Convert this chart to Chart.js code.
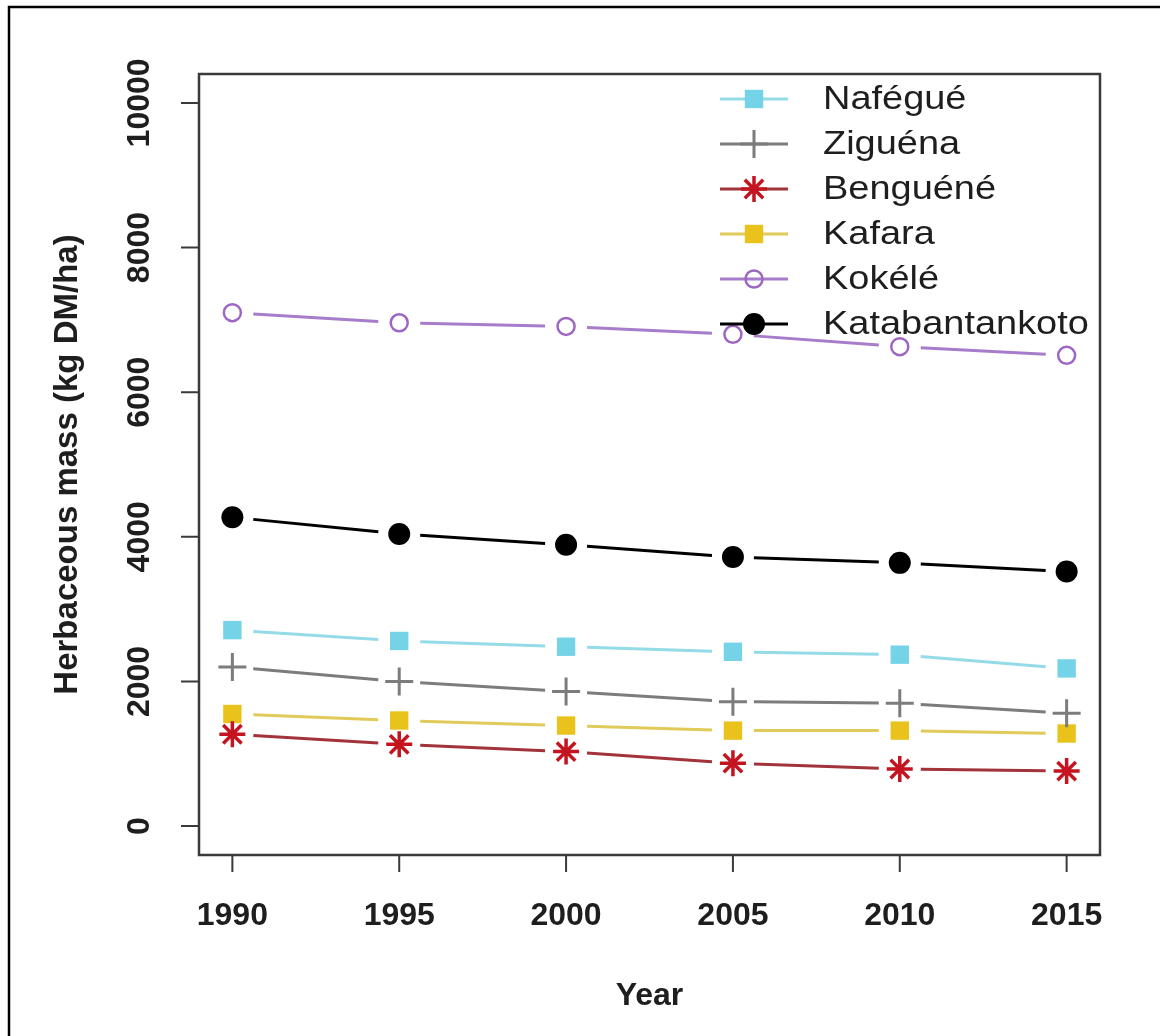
<!DOCTYPE html>
<html>
<head>
<meta charset="utf-8">
<style>
  html, body { margin: 0; padding: 0; background: #fff; }
  #wrap { position: relative; width: 1160px; height: 1036px; }
</style>
<script src="https://cdn.jsdelivr.net/npm/chart.js@4/dist/chart.umd.min.js"></script>
</head>
<body>
<div id="wrap"><canvas id="chart" width="1160" height="1036"></canvas></div>
<script>
const years = [1990, 1995, 2000, 2005, 2010, 2015];
const xTicks = [1990, 1995, 2000, 2005, 2010, 2015];
const yTicks = [0, 2000, 4000, 6000, 8000, 10000];

const nafegue = [2710, 2560, 2480, 2410, 2370, 2180];
const ziguena = [2200, 2000, 1860, 1720, 1700, 1560];
const benguene = [1270, 1130, 1030, 870, 790, 760];
const kafara = [1550, 1460, 1390, 1320, 1320, 1280];
const kokele = [7100, 6960, 6910, 6800, 6630, 6510];
const katabantankoto = [4270, 4040, 3890, 3720, 3640, 3520];

const seriesNames = ['Nafégué', 'Ziguéna', 'Benguéné', 'Kafara', 'Kokélé', 'Katabantankoto'];

const FONT = '"Liberation Sans", Arial, sans-serif';

function pts(values) {
  return years.map((yr, i) => ({ x: yr, y: values[i] }));
}

// line colour, marker colour, marker style, radius, marker border width, filled?
const styles = [
  { line: '#94dbe8', mark: '#74d3e6', style: 'rect', r: 13, bw: 0, fill: true },
  { line: '#7c7c7c', mark: '#7c7c7c', style: 'cross', r: 14, bw: 3, fill: false },
  { line: '#a3333a', mark: '#c4141f', style: 'star', r: 13, bw: 3.5, fill: false },
  { line: '#e0cb5a', mark: '#e9c31c', style: 'rect', r: 13, bw: 0, fill: true },
  { line: '#a67ccb', mark: '#9c66c2', style: 'circle', r: 8.5, bw: 2.5, fill: false },
  { line: '#000000', mark: '#000000', style: 'circle', r: 11, bw: 0, fill: true }
];

const allValues = [nafegue, ziguena, benguene, kafara, kokele, katabantankoto];

const datasets = allValues.map((vals, i) => {
  const s = styles[i];
  return {
    label: seriesNames[i],
    data: pts(vals),
    showLine: false,
    pointStyle: s.style,
    pointRadius: s.r,
    pointHoverRadius: s.r,
    pointBorderWidth: s.bw,
    pointBackgroundColor: s.fill ? s.mark : 'rgba(0,0,0,0)',
    pointBorderColor: s.mark,
    borderColor: s.line
  };
});

function drawMarker(ctx, s, x, y) {
  ctx.save();
  ctx.fillStyle = s.fill ? s.mark : 'rgba(0,0,0,0)';
  ctx.strokeStyle = s.mark;
  ctx.lineWidth = s.bw;
  Chart.helpers.drawPoint(ctx, { pointStyle: s.style, radius: s.r, rotation: 0, borderWidth: s.bw }, x, y);
  ctx.restore();
}

// R style type="b": segments with a gap around each point
const gapLines = {
  id: 'gapLines',
  beforeDatasetsDraw(chart) {
    const ctx = chart.ctx;
    const gap = 21;
    chart.data.datasets.forEach((ds, i) => {
      const meta = chart.getDatasetMeta(i);
      ctx.save();
      ctx.strokeStyle = styles[i].line;
      ctx.lineWidth = 3;
      for (let k = 0; k < meta.data.length - 1; k++) {
        const a = meta.data[k], b = meta.data[k + 1];
        const dx = b.x - a.x, dy = b.y - a.y;
        const len = Math.hypot(dx, dy);
        if (len <= 2 * gap) continue;
        const ux = dx / len, uy = dy / len;
        ctx.beginPath();
        ctx.moveTo(a.x + ux * gap, a.y + uy * gap);
        ctx.lineTo(b.x - ux * gap, b.y - uy * gap);
        ctx.stroke();
      }
      ctx.restore();
    });
  }
};

const axesAndText = {
  id: 'axesAndText',
  afterDraw(chart) {
    const ctx = chart.ctx;
    const area = chart.chartArea;
    const xs = chart.scales.x, ys = chart.scales.y;

    ctx.save();
    // outer frame (top and left only)
    ctx.strokeStyle = '#000';
    ctx.lineWidth = 2.5;
    ctx.beginPath();
    ctx.moveTo(1160, 7);
    ctx.lineTo(9, 7);
    ctx.lineTo(9, 1036);
    ctx.stroke();

    // plot box
    ctx.strokeStyle = '#3a3a3a';
    ctx.lineWidth = 2.5;
    ctx.strokeRect(area.left, area.top, area.right - area.left, area.bottom - area.top);

    // ticks
    ctx.lineWidth = 2;
    ctx.beginPath();
    xTicks.forEach(v => {
      const px = xs.getPixelForValue(v);
      ctx.moveTo(px, area.bottom);
      ctx.lineTo(px, area.bottom + 17);
    });
    yTicks.forEach(v => {
      const py = ys.getPixelForValue(v);
      ctx.moveTo(area.left, py);
      ctx.lineTo(area.left - 18, py);
    });
    ctx.stroke();

    // tick labels
    ctx.fillStyle = '#1e1e1e';
    ctx.font = 'bold 32px ' + FONT;
    ctx.textAlign = 'center';
    ctx.textBaseline = 'middle';
    xTicks.forEach(v => {
      ctx.fillText(String(v), xs.getPixelForValue(v), 916);
    });
    yTicks.forEach(v => {
      ctx.save();
      ctx.translate(140, ys.getPixelForValue(v));
      ctx.rotate(-Math.PI / 2);
      ctx.fillText(String(v), 0, 0);
      ctx.restore();
    });

    // axis titles
    ctx.fillText('Year', (area.left + area.right) / 2, 996);
    ctx.save();
    ctx.translate(68, (area.top + area.bottom) / 2);
    ctx.rotate(-Math.PI / 2);
    ctx.font = 'bold 33px ' + FONT;
    ctx.fillText('Herbaceous mass (kg DM/ha)', 0, 0);
    ctx.restore();

    // legend (no box)
    ctx.font = '33px ' + FONT;
    ctx.textAlign = 'left';
    seriesNames.forEach((name, i) => {
      const y = 99 + i * 45;
      const s = styles[i];
      ctx.strokeStyle = s.line;
      ctx.lineWidth = 3;
      ctx.beginPath();
      ctx.moveTo(720, y);
      ctx.lineTo(788, y);
      ctx.stroke();
      drawMarker(ctx, s, 754, y);
      ctx.fillStyle = '#1e1e1e';
      ctx.save();
      ctx.translate(823, y + 1);
      ctx.scale(1.15, 1);
      ctx.fillText(name, 0, 0);
      ctx.restore();
    });
    ctx.restore();
  }
};

new Chart(document.getElementById('chart'), {
  type: 'line',
  data: { datasets },
  options: {
    responsive: false,
    animation: false,
    layout: { padding: { left: 199, right: 60, top: 74, bottom: 181 } },
    plugins: { legend: { display: false }, tooltip: { enabled: false } },
    scales: {
      x: { type: 'linear', min: 1989, max: 2016, display: false },
      y: { type: 'linear', min: -400, max: 10400, display: false }
    }
  },
  plugins: [gapLines, axesAndText]
});
</script>
</body>
</html>
